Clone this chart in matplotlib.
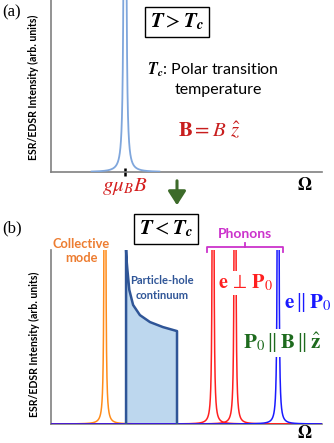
import numpy as np
import matplotlib
matplotlib.use('Agg')
import matplotlib.pyplot as plt
from matplotlib.patches import FancyArrowPatch

W, H = 334, 443
plt.rcParams['mathtext.fontset'] = 'stix'
plt.rcParams['font.family'] = ['Lato', 'DejaVu Sans']

# panel (a): single ESR line above Tc
peak_a = [27.3]

# panel (b): peaks below Tc (x in arbitrary units, 0..100)
collective = [19.9]
phonons_perp = [59.8, 67.9]
phonons_par = [83.8]

# particle-hole continuum edge
cont_x = [27.7, 27.9, 28.2, 28.9, 30.3, 32.8, 36.5, 41.3, 46.5]
cont_y = [1.0, 0.94, 0.885, 0.77, 0.684, 0.626, 0.586, 0.557, 0.534]

AXIS_GRAY = '#808080'
TC = r'\mathbfit{T}_{\mathbfit{c}}'


def lorentz(x, x0, g, amp=50.0):
    return amp * g**2 / ((x - x0)**2 + g**2)


def ftext(px, py, s, **kw):
    kw.setdefault('ha', 'center')
    kw.setdefault('va', 'center')
    return fig.text(px / W, 1 - py / H, s, **kw)


def style_axes(ax):
    ax.set_xlim(0, 100)
    ax.set_ylim(0, 1)
    for s in ['top', 'right']:
        ax.spines[s].set_visible(False)
    for s in ['left', 'bottom']:
        ax.spines[s].set_color(AXIS_GRAY)
        ax.spines[s].set_linewidth(1.2)
    ax.set_yticks([])
    ax.set_facecolor('none')


fig = plt.figure(figsize=(W / 100, H / 100), dpi=100)
ax_a = fig.add_axes([51 / W, 1 - 172 / H, 271 / W, 172 / H])
ax_b = fig.add_axes([51 / W, 19 / H, 271 / W, 174 / H])
style_axes(ax_a)
style_axes(ax_b)

# ---- panel (a)
xa = np.linspace(15, 40, 2000)
for x0 in peak_a:
    ax_a.plot(xa, lorentz(xa, x0, 0.09), color='#7fa6dc', lw=1.3, zorder=3)
ax_a.set_xticks(peak_a)
ax_a.set_xticklabels([r'$g\mu_B B$'], color='#d42020', fontsize=15)
ax_a.tick_params(axis='x', direction='inout', length=6, width=1.8, color='black', pad=0)
ax_a.text(-0.064, 0.49, 'ESR/EDSR Intensity (arb. units)', transform=ax_a.transAxes,
          rotation=90, ha='center', va='center', fontsize=7.6, fontweight='bold')

ftext(2, 12, '(a)', ha='left', fontsize=12, family='Liberation Serif')
ftext(177, 22, r'$\mathbfit{T} > ' + TC + '$', fontsize=15,
      bbox=dict(boxstyle='square,pad=0.22', fc='white', ec='black', lw=1))
ftext(147, 70, r'$' + TC + '$: Polar transition', ha='left', fontsize=11.5)
ftext(175, 90, 'temperature', ha='left', fontsize=11.5)
ftext(209, 130, r'$\mathbf{B} = B\ \hat{z}$', fontsize=15, color='#c81e1e')
ftext(305, 185, r'$\mathbf{\Omega}$', fontsize=13)

arrow = FancyArrowPatch((177 / W, 1 - 178 / H), (177 / W, 1 - 208 / H),
                        transform=fig.transFigure, arrowstyle='-|>,head_length=0.7,head_width=0.45',
                        mutation_scale=12, color='#3d6b2a', lw=2.2)
fig.add_artist(arrow)

# ---- panel (b)
xb = np.linspace(0, 100, 20000)
for x0 in collective:
    ax_b.plot(xb, lorentz(xb, x0, 0.055), color='#ff8c1a', lw=1.1, zorder=3)
for x0 in phonons_perp:
    ax_b.plot(xb, lorentz(xb, x0, 0.055), color='#ff2020', lw=1.1, zorder=3)
for x0 in phonons_par:
    ax_b.plot(xb, lorentz(xb, x0, 0.055), color='#1a1aff', lw=1.1, zorder=3)

ax_b.fill_between(cont_x, 0, cont_y, color='#bdd7ee', lw=0, zorder=2)
ax_b.plot([cont_x[0]] + cont_x + [cont_x[-1]], [0] + cont_y + [0],
          color='#2f5597', lw=1.8, zorder=4, solid_joinstyle='round')
ax_b.set_xticks([])
ax_b.text(-0.061, 0.46, 'ESR/EDSR Intensity (arb. units)', transform=ax_b.transAxes,
          rotation=90, ha='center', va='center', fontsize=7.6, fontweight='bold')

# phonon bracket
ax_b.plot([57.6, 57.6, 85.6, 85.6], [0.989, 1.017, 1.017, 0.989], color='#cc33cc',
          lw=1.3, clip_on=False)
ax_b.plot([71.6, 71.6], [1.017, 1.04], color='#cc33cc', lw=1.3, clip_on=False)

ftext(2, 228, '(b)', ha='left', fontsize=12, family='Liberation Serif')
ftext(166, 229, r'$\mathbfit{T} < ' + TC + '$', fontsize=15,
      bbox=dict(boxstyle='square,pad=0.22', fc='white', ec='black', lw=1))
ftext(81, 251, 'Collective\nmode', fontsize=9.3, fontweight='bold', color='#ed7d31',
      linespacing=1.25)
ftext(162, 288, 'Particle-hole\ncontinuum', fontsize=8, fontweight='bold', color='#2f5597',
      linespacing=1.45)
ftext(245, 234, 'Phonons', fontsize=10, fontweight='bold', color='#cc33cc')
ftext(245, 283, r'$\mathbf{e}\,\perp\,\mathbf{P}_0$', fontsize=14.5, color='#ff2020', zorder=5,
      bbox=dict(boxstyle='square,pad=0.1', fc='white', ec='none'))
ftext(308, 303, r'$\mathbf{e}\,\Vert\,\mathbf{P}_0$', fontsize=15, color='#1a1aff', zorder=5,
      bbox=dict(boxstyle='square,pad=0.1', fc='white', ec='none'))
ftext(282, 343, r'$\mathbf{P}_0\,\Vert\,\mathbf{B}\,\Vert\,\hat{\mathbf{z}}$', fontsize=15,
      color='#1e6b1e', zorder=5, bbox=dict(boxstyle='square,pad=0.1', fc='white', ec='none'))
ftext(305, 433, r'$\mathbf{\Omega}$', fontsize=13)

fig.savefig('out.png', dpi=100)
